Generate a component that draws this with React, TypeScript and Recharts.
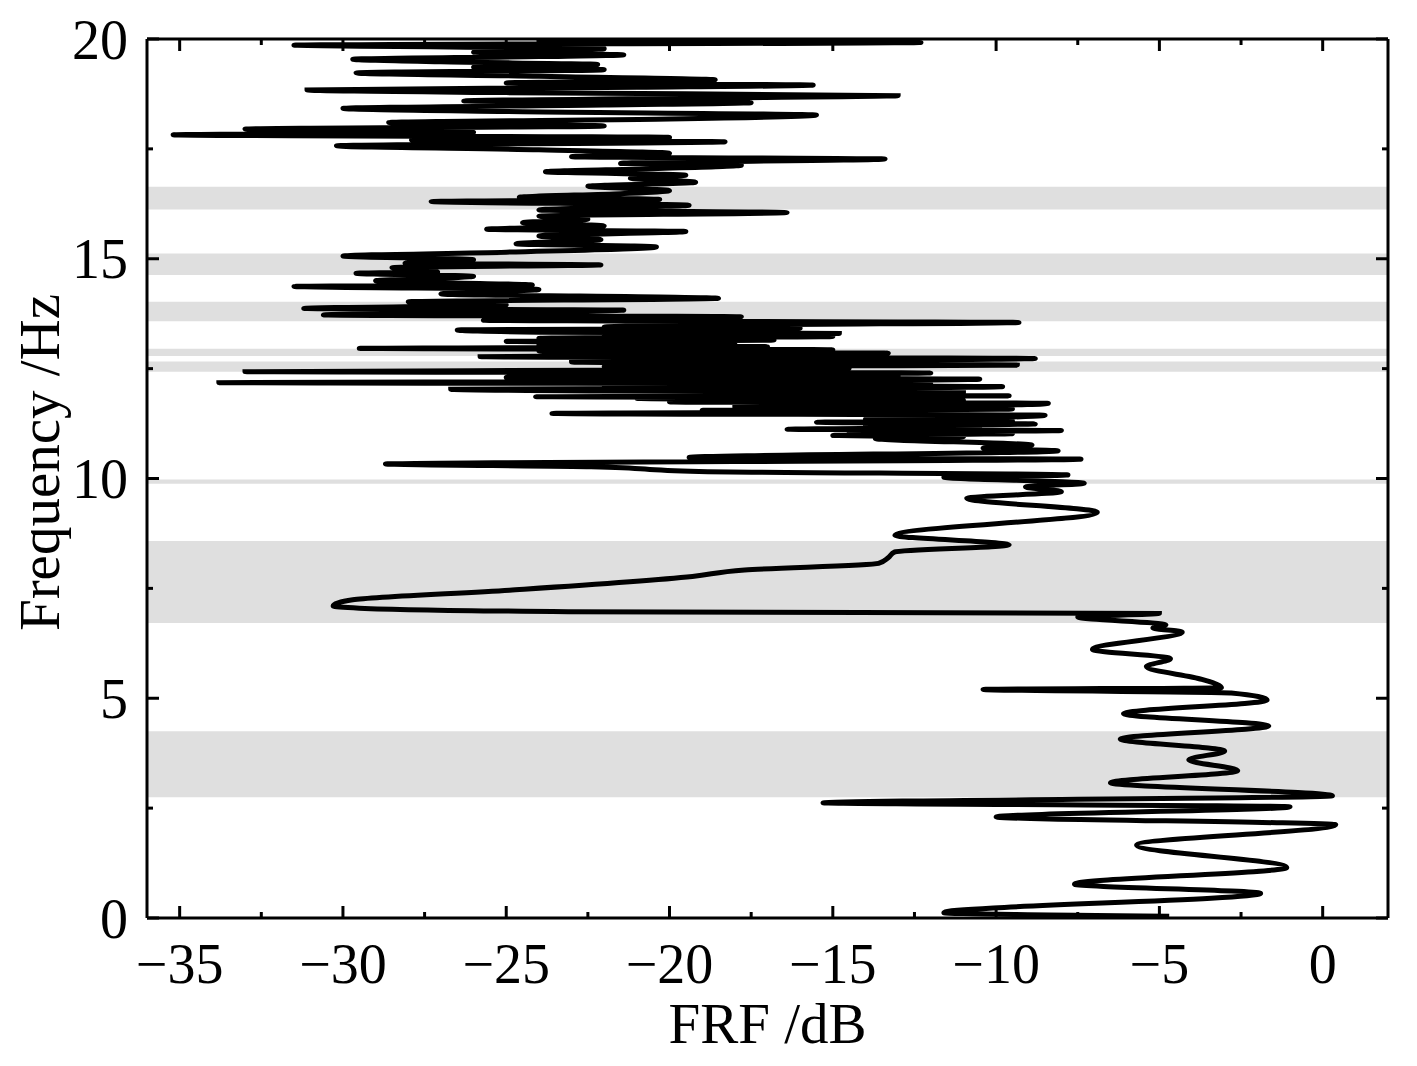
import { LineChart, Line, XAxis, YAxis, ReferenceArea, Label } from "recharts";

// frequency (Hz) and FRF (dB), in order of frequency
const freqHz = [
  0.04, 0.12, 0.56, 0.77, 1.15, 1.66, 2.12, 2.3, 2.53, 2.62,
  2.78, 3.08, 3.35, 3.6, 3.8, 4.07, 4.37, 4.65, 4.96, 5.12,
  5.2, 5.24, 5.43, 5.72, 5.9, 6.11, 6.51, 6.6, 6.67, 6.85,
  6.93, 6.97, 7.05, 7.1, 7.24, 7.46, 7.77, 7.92, 8.07, 8.2,
  8.33, 8.49, 8.71, 9.23, 9.55, 9.7, 9.81, 9.89, 10.03, 10.08,
  10.16, 10.27, 10.33, 10.44, 10.48, 10.63, 10.69, 10.76, 10.91, 10.95,
  10.98, 11.02, 11.05, 11.09, 11.12, 11.17, 11.2, 11.24, 11.28, 11.31,
  11.35, 11.39, 11.44, 11.48, 11.52, 11.55, 11.58, 11.62, 11.66, 11.71,
  11.74, 11.78, 11.82, 11.84, 11.86, 11.88, 11.92, 11.95, 11.99, 12.03,
  12.06, 12.09, 12.12, 12.15, 12.18, 12.22, 12.26, 12.3, 12.33, 12.37,
  12.4, 12.43, 12.47, 12.51, 12.55, 12.58, 12.62, 12.65, 12.69, 12.73,
  12.77, 12.81, 12.85, 12.9, 12.93, 12.96, 13.0, 13.04, 13.08, 13.12,
  13.15, 13.19, 13.23, 13.27, 13.3, 13.33, 13.38, 13.42, 13.45, 13.5,
  13.55, 13.6, 13.68, 13.72, 13.78, 13.83, 13.87, 13.95, 14.02, 14.1,
  14.2, 14.3, 14.37, 14.4, 14.5, 14.6, 14.67, 14.7, 14.8, 14.86,
  14.9, 14.98, 15.06, 15.15, 15.27, 15.34, 15.43, 15.52, 15.62, 15.67,
  15.75, 15.82, 15.9, 15.97, 16.05, 16.11, 16.22, 16.3, 16.35, 16.4,
  16.48, 16.55, 16.65, 16.74, 16.83, 16.9, 16.98, 17.05, 17.13, 17.17,
  17.27, 17.32, 17.4, 17.48, 17.57, 17.66, 17.7, 17.76, 17.82, 17.88,
  17.95, 18.02, 18.1, 18.18, 18.27, 18.35, 18.42, 18.5, 18.55, 18.59,
  18.65, 18.71, 18.78, 18.84, 18.9, 18.95, 19.0, 19.07, 19.15, 19.23,
  19.3, 19.36, 19.42, 19.48, 19.54, 19.6, 19.64, 19.7, 19.78, 19.86,
  19.92, 19.96, 20.0,
];

const frfDb = [
  -4.7, -11.6, -1.9, -7.6, -1.1, -5.7, 0.4, -10.0, -1.0, -15.3,
  0.3, -6.5, -2.6, -4.1, -3.0, -6.2, -1.65, -6.1, -1.7, -2.8,
  -10.4, -3.1, -3.7, -5.4, -4.66, -7.05, -4.3, -5.2, -4.8, -7.5,
  -5.0, -23.1, -29.5, -30.3, -29.7, -24.9, -19.3, -17.7, -13.6, -13.3,
  -13.1, -9.6, -13.1, -6.9, -10.9, -8.0, -9.1, -7.3, -11.6, -7.8,
  -19.1, -22.4, -28.7, -7.4, -19.4, -8.1, -10.4, -8.9, -13.7, -11.0,
  -15.0, -9.5, -14.5, -8.0, -16.4, -10.5, -14.0, -8.8, -15.5, -9.5,
  -14.0, -10.0, -8.5, -23.6, -12.0, -19.0, -9.5, -18.0, -11.0, -8.4,
  -20.0, -11.0, -21.0, -12.0, -24.1, -9.6, -20.0, -11.0, -22.0, -26.7,
  -14.0, -9.8, -22.0, -12.0, -33.8, -16.0, -10.5, -25.0, -13.0, -21.0,
  -12.0, -33.0, -20.0, -14.5, -22.0, -9.35, -16.0, -23.0, -15.0, -8.8,
  -25.8, -19.0, -13.3, -24.0, -15.0, -29.5, -17.0, -24.0, -18.0, -25.0,
  -16.8, -24.0, -15.0, -22.0, -14.8, -24.0, -26.5, -16.0, -22.0, -17.0,
  -9.3, -25.7, -17.8, -30.6, -26.0, -21.4, -31.2, -25.0, -28.0, -18.5,
  -27.0, -24.0, -31.5, -24.2, -29.0, -26.0, -29.6, -27.1, -28.5, -22.1,
  -28.1, -26.0, -30.0, -25.0, -20.4, -24.7, -22.1, -24.0, -19.5, -25.6,
  -22.0, -24.5, -22.5, -24.0, -16.4, -24.0, -19.4, -27.3, -20.3, -24.6,
  -21.5, -20.0, -22.5, -19.2, -21.2, -19.5, -23.8, -20.5, -17.8, -21.5,
  -13.4, -23.0, -20.0, -24.0, -30.2, -18.3, -27.9, -20.0, -35.2, -26.0,
  -33.0, -22.0, -28.6, -20.0, -15.5, -25.0, -30.0, -22.0, -17.5, -26.3,
  -20.0, -13.0, -25.0, -31.1, -21.0, -15.6, -25.0, -18.6, -24.0, -29.6,
  -22.0, -26.0, -22.2, -27.0, -29.7, -24.0, -21.4, -26.0, -22.0, -31.5,
  -12.3, -24.0, -22.0,
];

// grey frequency bands
const bandFrom = [2.75, 6.71, 9.88, 12.43, 12.79, 13.58, 14.63, 16.12];
const bandTo = [4.25, 8.58, 9.98, 12.66, 12.95, 14.02, 15.12, 16.64];

const xTicks = [-35, -32.5, -30, -27.5, -25, -22.5, -20, -17.5, -15, -12.5, -10, -7.5, -5, -2.5, 0];
const yTicks = [0, 2.5, 5, 7.5, 10, 12.5, 15, 17.5, 20];

const rows = freqHz.map((f, i) => ({ f, frf: frfDb[i] }));

const FONT = "'Liberation Serif', 'Times New Roman', serif";
const MAJOR = 12;
const MINOR = 6;

const fmt = (v: number) => (v < 0 ? `\u2212${Math.abs(v)}` : `${v}`);
const isMajor = (v: number) => Math.abs(v % 5) < 1e-9;

function BottomTick(props: any) {
  const { x, y, payload } = props;
  const v = payload.value;
  return (
    <g>
      <line x1={x} y1={y} x2={x} y2={y - (isMajor(v) ? MAJOR : MINOR)} stroke="#000" strokeWidth={3} />
      {isMajor(v) && (
        <text x={x} y={y + 65} textAnchor="middle" fontSize={56} fontFamily={FONT} fill="#000">
          {fmt(v)}
        </text>
      )}
    </g>
  );
}

function TopTick(props: any) {
  const { x, y, payload } = props;
  const v = payload.value;
  return <line x1={x} y1={y} x2={x} y2={y + (isMajor(v) ? MAJOR : MINOR)} stroke="#000" strokeWidth={3} />;
}

function LeftTick(props: any) {
  const { x, y, payload } = props;
  const v = payload.value;
  return (
    <g>
      <line x1={x} y1={y} x2={x + (isMajor(v) ? MAJOR : MINOR)} y2={y} stroke="#000" strokeWidth={3} />
      {isMajor(v) && (
        <text x={x - 19} y={y} dy="0.35em" textAnchor="end" fontSize={56} fontFamily={FONT} fill="#000">
          {fmt(v)}
        </text>
      )}
    </g>
  );
}

function RightTick(props: any) {
  const { x, y, payload } = props;
  const v = payload.value;
  return <line x1={x} y1={y} x2={x - (isMajor(v) ? MAJOR : MINOR)} y2={y} stroke="#000" strokeWidth={3} />;
}

const frame = { stroke: "#000", strokeWidth: 3 };

export default function App() {
  return (
    <LineChart
      width={1401}
      height={1050}
      layout="vertical"
      data={rows}
      margin={{ top: 30, right: 20, bottom: 40, left: 0 }}
    >
      <XAxis
        type="number"
        dataKey="frf"
        domain={[-36, 2]}
        allowDataOverflow
        ticks={xTicks}
        interval={0}
        tickSize={0}
        tickMargin={0}
        tickLine={false}
        axisLine={frame}
        tick={<BottomTick />}
        height={100}
      >
        <Label
          content={(p: any) => {
            const vb = p.viewBox || { x: 139, y: 910, width: 1241 };
            return (
              <text x={vb.x + vb.width / 2} y={vb.y + 125} textAnchor="middle" fontSize={57} fontFamily={FONT} fill="#000">
                FRF /dB
              </text>
            );
          }}
        />
      </XAxis>
      <XAxis
        xAxisId="top"
        orientation="top"
        type="number"
        dataKey="frf"
        domain={[-36, 2]}
        allowDataOverflow
        ticks={xTicks}
        interval={0}
        tickSize={0}
        tickMargin={0}
        tickLine={false}
        axisLine={frame}
        tick={<TopTick />}
        height={1}
      />
      <YAxis
        type="number"
        dataKey="f"
        domain={[0, 20]}
        allowDataOverflow
        reversed
        ticks={yTicks}
        interval={0}
        tickSize={0}
        tickMargin={0}
        tickLine={false}
        axisLine={frame}
        tick={<LeftTick />}
        width={139}
      >
        <Label
          content={(p: any) => {
            const vb = p.viewBox || { x: 0, y: 31, height: 879 };
            const cy = vb.y + vb.height / 2 - 16;
            return (
              <text
                x={51}
                y={cy}
                transform={`rotate(-90, 51, ${cy})`}
                textAnchor="middle"
                fontSize={57}
                fontFamily={FONT}
                fill="#000"
              >
                Frequency /Hz
              </text>
            );
          }}
        />
      </YAxis>
      <YAxis
        yAxisId="right"
        orientation="right"
        type="number"
        dataKey="f"
        domain={[0, 20]}
        allowDataOverflow
        reversed
        ticks={yTicks}
        interval={0}
        tickSize={0}
        tickMargin={0}
        tickLine={false}
        axisLine={frame}
        tick={<RightTick />}
        width={1}
      />
      {bandFrom.map((b, i) => (
        <ReferenceArea key={i} y1={b} y2={bandTo[i]} fill="#dfdfdf" fillOpacity={1} stroke="none" />
      ))}
      {/* invisible copy so the mirrored frame axes get the same scales */}
      <Line
        xAxisId="top"
        yAxisId="right"
        type="monotone"
        dataKey="frf"
        stroke="none"
        dot={false}
        activeDot={false}
        isAnimationActive={false}
      />
      <Line
        type="monotone"
        dataKey="frf"
        stroke="#000"
        strokeWidth={5}
        dot={false}
        isAnimationActive={false}
      />
    </LineChart>
  );
}
